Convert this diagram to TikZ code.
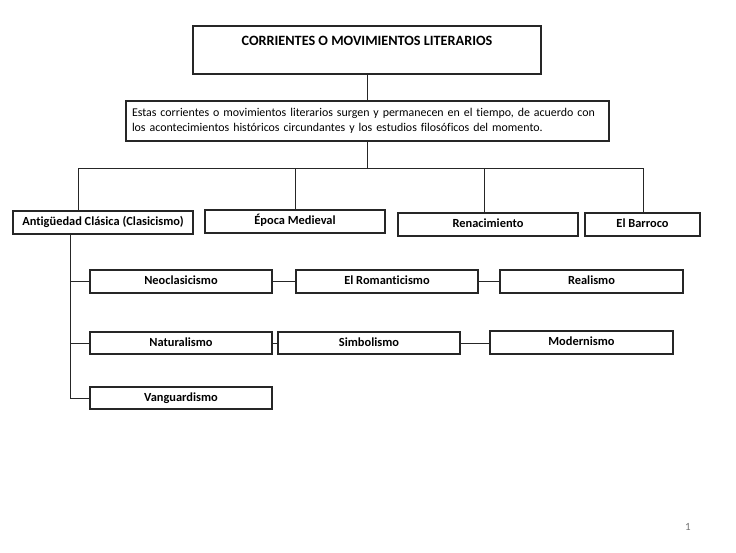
\documentclass[tikz,border=0pt]{standalone}
\usepackage{fontspec}
\setmainfont[Ligatures=NoCommon]{Carlito}
\begin{document}
\begin{tikzpicture}[x=1pt,y=-1pt,
  frame/.style={draw=black!85, line width=1.1pt, fill=white, inner sep=0pt},
  box/.style={frame, text height=8.6pt, text depth=2.6pt, font=\bfseries\fontsize{12.4}{14}\selectfont},
  conn/.style={draw=black!85, line width=1pt},
  txt/.style={inner sep=0pt}]
\fill[white] (0,0) rectangle (736,552);
\useasboundingbox (0,0) rectangle (736,552);
% title and description
\node[frame, minimum width=348pt, minimum height=48pt] (title) at (367,50) {};
\node[txt, font=\bfseries\fontsize{14.2}{16}\selectfont] (titletxt) at (367,41) {CORRIENTES O MOVIMIENTOS LITERARIOS};
\node[frame, font=\fontsize{11.9}{15}\selectfont, minimum width=483pt, minimum height=40pt, text width=471pt, inner xsep=6pt, align=left] (desc) at (367.5,121)
  {Estas corrientes o movimientos literarios surgen y permanecen en el tiempo, de acuerdo con\\
   los acontecimientos históricos circundantes y los estudios filosóficos del momento.};
% first row
\node[box, minimum width=180pt, minimum height=23pt] (ant) at (103,222.5) {Antigüedad Clásica (Clasicismo)};
\node[box, minimum width=180pt, minimum height=23pt] (epo) at (295,221.5) {Época Medieval};
\node[box, minimum width=180pt, minimum height=23pt] (ren) at (488,224.5) {Renacimiento};
\node[box, minimum width=115pt, minimum height=23pt] (bar) at (642.5,224.5) {El Barroco};
% second row
\node[box, minimum width=182pt, minimum height=23pt] (neo) at (181,281.5) {Neoclasicismo};
\node[box, minimum width=182pt, minimum height=23pt] (rom) at (387,281.5) {El Romanticismo};
\node[box, minimum width=183pt, minimum height=23pt] (rea) at (591.5,281.5) {Realismo};
% third row
\node[box, minimum width=182pt, minimum height=22pt] (nat) at (181,343) {Naturalismo};
\node[box, minimum width=182pt, minimum height=22pt] (sim) at (369,343) {Simbolismo};
\node[box, minimum width=183pt, minimum height=23pt] (mod) at (581.5,342.5) {Modernismo};
% fourth row
\node[box, minimum width=182pt, minimum height=22pt] (van) at (181,398) {Vanguardismo};
% page number
\node[txt, text=black!55, font=\fontsize{11}{13}\selectfont] (pg) at (688,527) {1};
% connectors
\coordinate (busL) at (78,168);
\coordinate (busR) at (643,168);
\coordinate (bus2) at (295,168);
\coordinate (bus3) at (484,168);
\coordinate (sp) at (70,398);
\draw[conn] (title.south) -- (title.south |- desc.north);
\draw[conn] (title.south |- desc.south) -- (title.south |- busL);
\draw[conn] (busL |- ant.north) -- (busL) -- (busR) -- (busR |- bar.north);
\draw[conn] (bus2) -- (bus2 |- epo.north);
\draw[conn] (bus3) -- (bus3 |- ren.north);
\draw[conn] (sp |- ant.south) -- (sp) -- (van.west);
\draw[conn] (sp |- neo.west) -- (neo.west);
\draw[conn] (sp |- nat.west) -- (nat.west);
\draw[conn] (neo.east) -- (rom.west);
\draw[conn] (rom.east) -- (rea.west);
\draw[conn] (nat.east) -- (sim.west);
\draw[conn] (sim.east) -- (sim.east -| mod.west);
\end{tikzpicture}
\end{document}
